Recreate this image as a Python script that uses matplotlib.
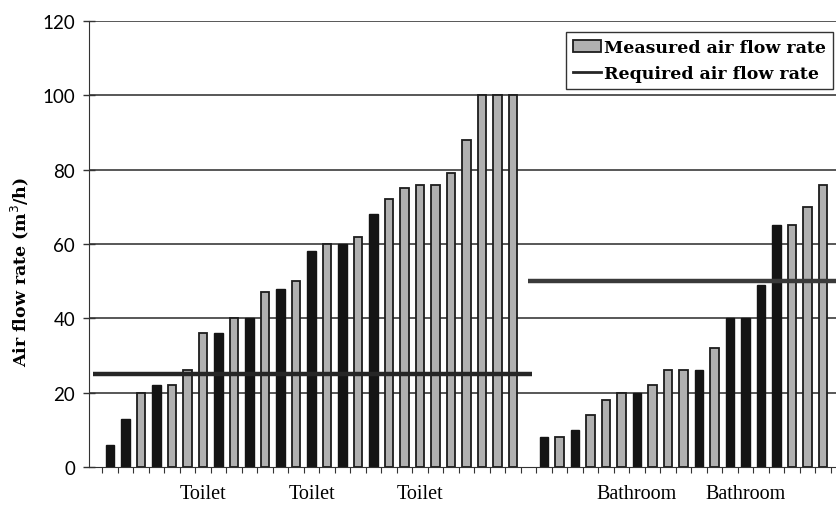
import numpy as np
import matplotlib
matplotlib.use("Agg")
import matplotlib.pyplot as plt
from matplotlib.patches import Patch
from matplotlib.lines import Line2D

# ---------------- DATA ----------------
toilet_flow = [6, 13, 20, 22, 22, 26, 36, 36, 40, 40, 47, 48, 50, 58, 60, 60,
               62, 68, 72, 75, 76, 76, 79, 88, 100, 100, 100]
toilet_dark = [1, 1, 0, 1, 0, 0, 0, 1, 0, 1, 0, 1, 0, 1, 0, 1,
               0, 1, 0, 0, 0, 0, 0, 0, 0, 0, 0]
bath_flow = [8, 8, 10, 14, 18, 20, 20, 22, 26, 26, 26, 32, 40, 40, 49, 65, 65, 70, 76]
bath_dark = [1, 0, 1, 0, 0, 0, 1, 0, 0, 0, 1, 0, 1, 1, 1, 1, 0, 0, 0]
toilet_required = 25
bath_required = 50
group_labels = ["Toilet", "Toilet", "Toilet", "Bathroom", "Bathroom"]
label_slots = [6, 13, 20, 34, 41]
y_ticks = [0, 20, 40, 60, 80, 100, 120]

# ---------------- LAYOUT ----------------
values = toilet_flow + [0] + bath_flow          # one empty slot between groups
dark = toilet_dark + [0] + bath_dark
x = np.arange(len(values))
gap = len(toilet_flow)

fig = plt.figure(figsize=(8.37, 5.10), dpi=100)
ax = fig.add_axes([89 / 837, 1 - 468 / 510, 1 - 89 / 837, (468 - 22) / 510])

ax.set_ylim(0, 120)
ax.set_xlim(-1.355, 46.9)

for yv in y_ticks[1:]:
    ax.axhline(yv, color="#4a4a4a", lw=1.3, zorder=1)

mask = np.array([i != gap for i in x])
dark_arr = np.array(dark, dtype=bool)
vals = np.array(values)

light_idx = mask & ~dark_arr
dark_idx = mask & dark_arr
ax.bar(x[light_idx], vals[light_idx], width=0.55, color="#b0b0b0",
       edgecolor="#1c1c1c", linewidth=1.3, zorder=2)
ax.bar(x[dark_idx], vals[dark_idx], width=0.55, color="#141414",
       edgecolor="#141414", linewidth=1.0, zorder=2)

# required air flow rate lines
ax.hlines(toilet_required, -1.1, gap + 0.2, color="#262626", lw=3.2, zorder=3)
ax.hlines(bath_required, gap - 0.05, 48, color="#3a3a3a", lw=3.2, zorder=3)

# axes styling
for s in ["top", "right"]:
    ax.spines[s].set_visible(False)
ax.spines["left"].set_color("#333333")
ax.spines["bottom"].set_color("#333333")

ax.set_yticks(y_ticks)
ax.set_yticklabels([str(v) for v in y_ticks], family="Lato", fontsize=13.5)
ax.tick_params(axis="y", direction="inout", length=8, width=1.0, color="#333333", pad=6)

ax.set_xticks(np.arange(-0.5, 47, 1.0))
ax.set_xticklabels([])
ax.tick_params(axis="x", direction="out", length=4, width=0.8, color="#333333")

for lbl, slot in zip(group_labels, label_slots):
    ax.text(slot, -7, lbl, ha="center", va="center",
            family="Liberation Serif", fontsize=14.5)

ax.set_ylabel("Air flow rate (m$^3$/h)", family="DejaVu Serif",
              fontweight="bold", fontsize=12.5)
ax.yaxis.set_label_coords(-0.077, 0.44)

handles = [Patch(facecolor="#b0b0b0", edgecolor="#1c1c1c", linewidth=1.3),
           Line2D([0], [0], color="#262626", lw=2)]
leg = ax.legend(handles, ["Measured air flow rate", "Required air flow rate"],
                loc="upper right", bbox_to_anchor=(833 / 837, 1 - 33 / 510),
                bbox_transform=fig.transFigure, fancybox=False, framealpha=1,
                edgecolor="#333333", handlelength=1.6, handletextpad=0.2,
                borderpad=0.4, labelspacing=0.55, borderaxespad=0,
                prop={"family": "DejaVu Serif", "weight": "bold", "size": 12.5})
leg.get_frame().set_linewidth(1.0)
leg.set_zorder(5)

fig.savefig("out.png", dpi=100)
